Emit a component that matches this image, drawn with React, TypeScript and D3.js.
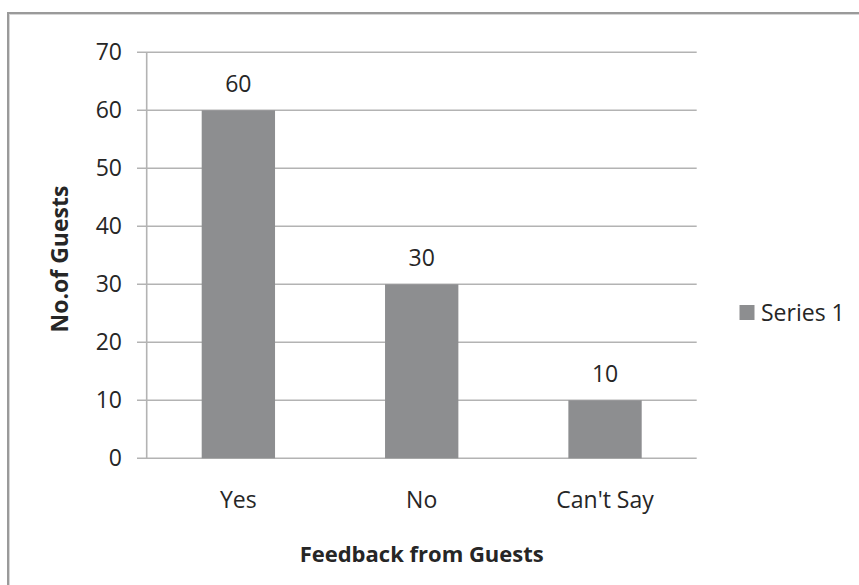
import React from "react";
import * as d3 from "d3";

// Survey results: guest feedback counts
const categories: string[] = ["Yes", "No", "Can't Say"];
const seriesValues: number[] = [60, 30, 10];
const seriesName = "Series 1";
const yTicks: number[] = [0, 10, 20, 30, 40, 50, 60, 70];
const yTitle = "No.of Guests";
const xTitle = "Feedback from Guests";

const W = 859;
const H = 585;
const plot = { left: 146.7, right: 696.7, top: 52.3, bottom: 458.3 };
const FONT = "'Open Sans', 'Noto Sans', sans-serif";
const TEXT = "#262626";
const GRID = "#b3b3b3";
const BAR = "#8d8e90";
const FS = 23;

export default function App() {
  const x = d3
    .scaleBand<string>()
    .domain(categories)
    .range([plot.left, plot.right])
    .paddingInner(0.6)
    .paddingOuter(0.3);
  const y = d3.scaleLinear().domain([0, 70]).range([plot.bottom, plot.top]);

  const data = categories.map((c, i) => ({ c, v: seriesValues[i] }));
  const midX = (plot.left + plot.right) / 2;

  return (
    <div style={{ position: "fixed", left: 0, top: 0, width: W, height: H, background: "#fff" }}>
      <svg width={W} height={H} style={{ display: "block" }} fontFamily={FONT}>
        <rect x={0} y={0} width={W} height={H} fill="#fff" />

        {/* chart frame (top and left edges) */}
        <line x1={8} y1={13} x2={W} y2={13} stroke="#9a9a9a" strokeWidth={2} />
        <line x1={8} y1={14.5} x2={W} y2={14.5} stroke="#d6d6d6" strokeWidth={1} />
        <line x1={8} y1={12} x2={8} y2={H} stroke="#9a9a9a" strokeWidth={2} />
        <line x1={9.5} y1={14} x2={9.5} y2={H} stroke="#d6d6d6" strokeWidth={1} />

        {/* horizontal gridlines with left tick marks */}
        {yTicks.map((t) => (
          <g key={t}>
            <line x1={137} x2={plot.right} y1={y(t)} y2={y(t)} stroke={GRID} strokeWidth={1.6} />
            <text x={122} y={y(t) + 7.5} textAnchor="end" fontSize={FS} fill={TEXT}>
              {t}
            </text>
          </g>
        ))}

        {/* vertical axis line */}
        <line x1={plot.left} x2={plot.left} y1={plot.top} y2={plot.bottom} stroke={GRID} strokeWidth={1.6} />

        {/* bars */}
        {data.map((d) => (
          <rect
            key={d.c}
            x={x(d.c)!}
            y={y(d.v)}
            width={x.bandwidth()}
            height={y(0) - y(d.v)}
            fill={BAR}
          />
        ))}

        {/* value labels */}
        {data.map((d) => (
          <text
            key={"v" + d.c}
            x={x(d.c)! + x.bandwidth() / 2}
            y={y(d.v) - 18.5}
            textAnchor="middle"
            fontSize={FS}
            fill={TEXT}
          >
            {d.v}
          </text>
        ))}

        {/* category labels */}
        {categories.map((c) => (
          <text
            key={"c" + c}
            x={x(c)! + x.bandwidth() / 2}
            y={plot.bottom + 50}
            textAnchor="middle"
            fontSize={FS}
            fill={TEXT}
          >
            {c}
          </text>
        ))}

        {/* axis titles */}
        <text x={midX} y={561.5} textAnchor="middle" fontSize={22} fontWeight="bold" fill={TEXT}>
          {xTitle}
        </text>
        <text
          transform={`translate(68, ${259}) rotate(-90)`}
          textAnchor="middle"
          fontSize={FS}
          fontWeight="bold"
          fill={TEXT}
        >
          {yTitle}
        </text>

        {/* legend */}
        <rect x={739.5} y={305} width={15} height={15} fill={BAR} />
        <text x={761} y={320.5} fontSize={FS} fill={TEXT}>
          {seriesName}
        </text>
      </svg>
    </div>
  );
}
